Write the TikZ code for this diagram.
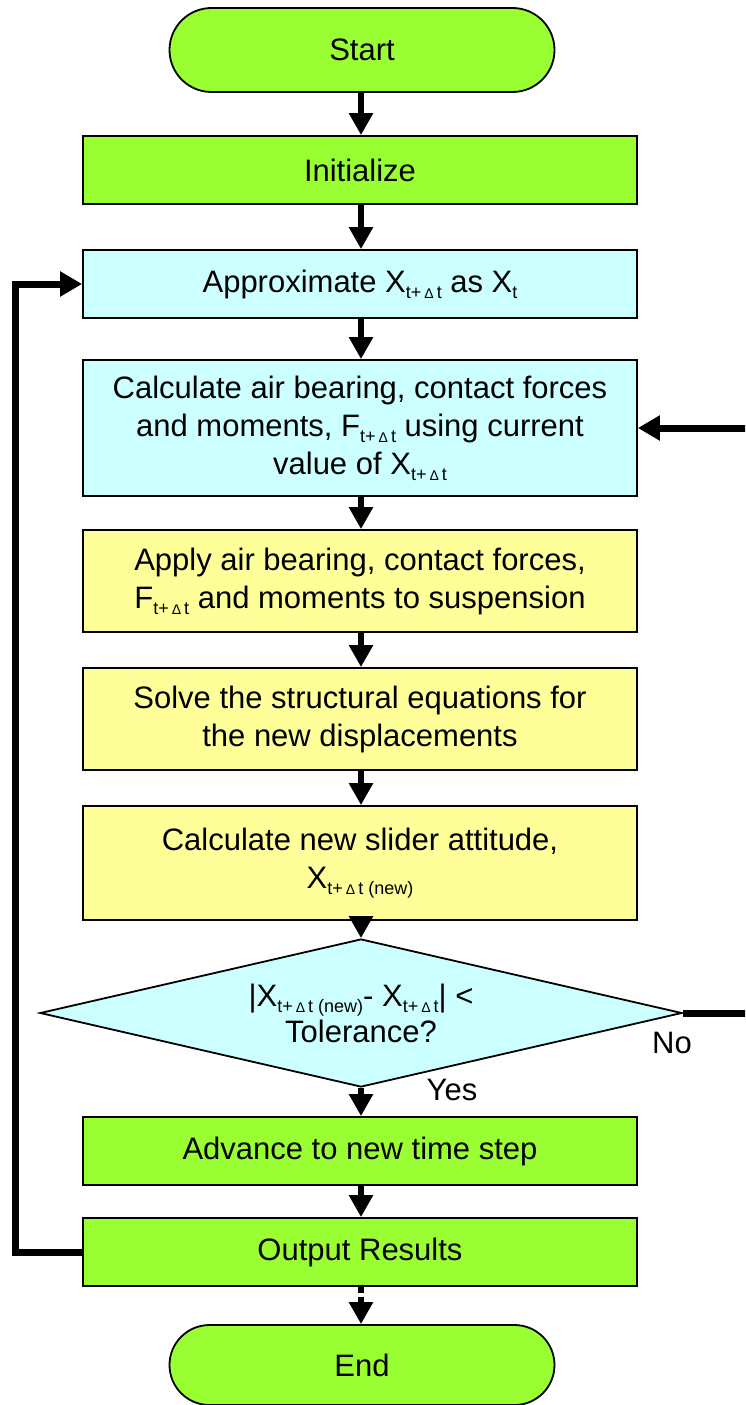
\documentclass[tikz,border=0pt]{standalone}
\usepackage{fontspec}
\setmainfont{Liberation Sans}
\usetikzlibrary{arrows.meta,shapes.geometric}
\definecolor{lgreen}{HTML}{99FF33}
\definecolor{lcyan}{HTML}{CCFFFF}
\definecolor{lyellow}{HTML}{FFFF99}
\newcommand{\mysub}[1]{\raisebox{-6pt}{\fontsize{18}{20}\selectfont #1}}
\newcommand{\tdt}{t+\,{\fontsize{14}{15}\selectfont Δ}\,t}
\begin{document}
\begin{tikzpicture}[x=1pt,y=-1pt,
  base/.style={draw=black, line width=1.8pt, align=center, font=\fontsize{31}{38}\selectfont, inner sep=0pt},
  term/.style={base, fill=lgreen, rounded corners=42pt, minimum width=385pt, minimum height=84pt},
  gbox/.style={base, fill=lgreen, minimum width=554pt},
  cbox/.style={base, fill=lcyan, minimum width=554pt},
  ybox/.style={base, fill=lyellow, minimum width=554pt},
  diam/.style={base, fill=lcyan, shape=diamond, aspect=4.34, minimum width=642pt, minimum height=148pt, font=\fontsize{31}{36}\selectfont},
  lab/.style={font=\fontsize{31}{36}\selectfont, inner sep=0pt},
  flow/.style={line width=6.5pt, -{Triangle[width=23pt,length=22pt]}},
  loopline/.style={line width=7pt, line join=miter, -{Triangle[width=24pt,length=22pt]}}
]
\useasboundingbox (0,0) rectangle (745,1405);
\clip (0,0) rectangle (745,1405);
\fill[white] (0,0) rectangle (745,1405);

\node[term] (start) at (362,50) {Start};
\node[gbox, minimum height=68pt] (init) at (360,170) {Initialize};
\node[cbox, minimum height=68pt] (approx) at (360,284) {Approximate X\mysub{\tdt} as X\mysub{t}};
\node[cbox, minimum height=136pt] (calc) at (360,428) {Calculate air bearing, contact forces\\and moments, F\mysub{\tdt} using current\\value of X\mysub{\tdt}};
\node[ybox, minimum height=102pt] (apply) at (360,581) {Apply air bearing, contact forces,\\F\mysub{\tdt} and moments to suspension};
\node[ybox, minimum height=102pt] (solve) at (360,719) {Solve the structural equations for\\the new displacements};
\node[ybox, minimum height=114pt] (newatt) at (360,863) {Calculate new slider attitude,\\X\mysub{\tdt\ (new)}};
\node[diam] (dec) at (361,1013) {|X\mysub{\tdt\ (new)}- X\mysub{\tdt}| <\\Tolerance?};
\node[gbox, minimum height=68pt] (adv) at (360,1151) {Advance to new time step};
\node[gbox, minimum height=68pt] (out) at (360,1252) {Output Results};
\node[term, minimum height=80pt, rounded corners=40pt] (end) at (362,1365) {End};

\node[lab] (no) at (672,1043) {No};
\node[lab] (yes) at (452,1090) {Yes};

\draw[flow] (start.south -| 361,0) -- (init.north -| 361,0);
\draw[flow] (init.south -| 361,0) -- (approx.north -| 361,0);
\draw[flow] (approx.south -| 361,0) -- (calc.north -| 361,0);
\draw[flow] (calc.south -| 361,0) -- (apply.north -| 361,0);
\draw[flow] (apply.south -| 361,0) -- (solve.north -| 361,0);
\draw[flow] (solve.south -| 361,0) -- (newatt.north -| 361,0);
\draw[flow] (newatt.south -| 361,0) -- (dec.north);
\draw[flow] (dec.south) -- (adv.north -| 361,0);
\draw[flow] (adv.south -| 361,0) -- (out.north -| 361,0);
\draw[flow, dash pattern=on 6pt off 4pt on 80pt] (out.south -| 361,0) -- (end.north -| 361,0);

\coordinate (lft) at (15,1252);
\draw[loopline] (out.west) -- (lft) |- (approx.west);
\coordinate (rgt) at (752,1013);
\draw[loopline] (dec.east) -- (rgt) |- (calc.east);
\end{tikzpicture}
\end{document}
